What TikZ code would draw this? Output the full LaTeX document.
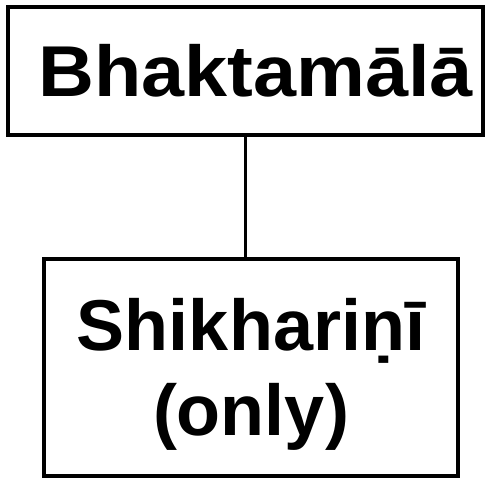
\documentclass[tikz,border=0pt]{standalone}
\usepackage{fontspec}
\setmainfont{Liberation Sans}
\begin{document}
\begin{tikzpicture}[x=1pt,y=1pt,
  box/.style={draw, line width=4pt, rectangle, inner sep=0pt, align=center,
    font=\bfseries\fontsize{72}{85}\selectfont},
  link/.style={line width=3.2pt}]
\useasboundingbox (0,0) rectangle (488,485);
\node[box, minimum width=475pt, minimum height=128pt, text height=52pt, text depth=0pt] (top) at (245.5,414) {\hspace*{20pt}\scalebox{1.075}[1]{Bhaktamālā}};
\node[box, minimum width=414pt, minimum height=217pt, text height=137pt, text depth=0pt] (bot) at (251,117.5) {Shikhariṇī\\(only)};
\draw[link] (top.south) -- (top.south |- bot.north);
\end{tikzpicture}
\end{document}
